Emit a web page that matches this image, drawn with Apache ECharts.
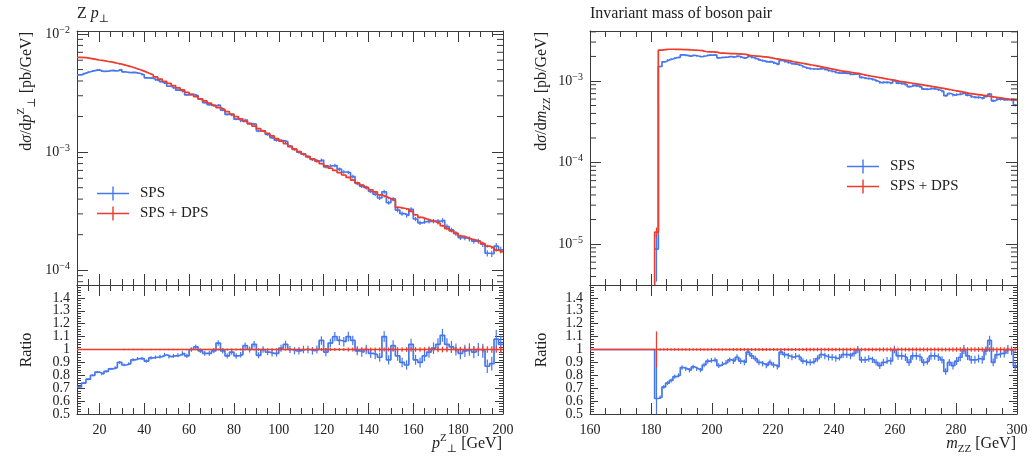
<!DOCTYPE html>
<html><head><meta charset="utf-8">
<script src="https://cdn.jsdelivr.net/npm/echarts@6/dist/echarts.min.js"></script>
<style>html,body{margin:0;padding:0;background:#fff}#c{width:1035px;height:456px}</style>
</head><body><div id="c"></div>
<script>
// ================= DATA =================
// Z pT histogram: 2 GeV bins from 10 to 200 GeV
const ptBinLow = 10, ptBinWidth = 2, ptBinCount = 95;
const spsDpsPt = [
 6.35e-3,6.30e-3,6.22e-3,6.12e-3,6.02e-3,5.95e-3,5.85e-3,5.78e-3,5.65e-3,5.55e-3,
 5.42e-3,5.30e-3,5.15e-3,5.00e-3,4.85e-3,4.68e-3,4.52e-3,4.33e-3,4.15e-3,3.98e-3,
 3.82e-3,3.66e-3,3.50e-3,3.36e-3,3.21e-3,3.08e-3,2.95e-3,2.83e-3,2.71e-3,2.60e-3,
 2.49e-3,2.38e-3,2.29e-3,2.20e-3,2.10e-3,2.00e-3,1.91e-3,1.82e-3,1.74e-3,1.66e-3,
 1.58e-3,1.51e-3,1.44e-3,1.37e-3,1.30e-3,1.24e-3,1.18e-3,1.12e-3,1.065e-3,1.01e-3,
 9.6e-4,9.15e-4,8.75e-4,8.4e-4,8.0e-4,7.65e-4,7.3e-4,7.0e-4,6.7e-4,6.4e-4,
 6.1e-4,5.8e-4,5.5e-4,5.25e-4,5.0e-4,4.8e-4,4.6e-4,4.35e-4,4.2e-4,4.05e-4,
 3.9e-4,3.4e-4,3.35e-4,3.3e-4,3.15e-4,2.95e-4,2.8e-4,2.72e-4,2.65e-4,2.58e-4,
 2.5e-4,2.38e-4,2.25e-4,2.15e-4,2.05e-4,1.95e-4,1.9e-4,1.84e-4,1.8e-4,1.76e-4,
 1.68e-4,1.6e-4,1.55e-4,1.48e-4,1.43e-4];
// SPS / (SPS + DPS) per bin
const ratioPt = [
 0.71,0.74,0.77,0.80,0.825,0.81,0.83,0.85,0.86,0.90,
 0.88,0.89,0.92,0.93,0.93,0.91,0.935,0.94,0.945,0.96,
 0.945,0.95,0.955,0.97,0.95,1.0,1.02,0.99,0.97,0.97,
 0.99,1.05,0.99,0.95,0.98,0.95,0.96,1.03,1.0,1.04,
 0.955,1.0,0.98,0.97,0.97,1.01,1.04,1.0,0.99,0.99,
 1.0,1.0,0.99,1.0,1.07,0.98,1.05,1.1,1.07,1.06,
 1.1,1.07,0.99,0.98,1.0,0.97,0.96,0.94,1.1,0.92,
 1.03,0.95,0.9,0.88,1.04,0.92,0.9,0.95,0.98,1.01,
 1.04,1.11,1.04,1.02,1.0,0.97,0.99,1.0,0.98,1.0,
 0.99,0.87,0.89,1.08,1.04];
const relErrSpsPt = [
 0.010,0.010,0.010,0.010,0.011,0.011,0.011,0.011,0.012,0.012,
 0.012,0.012,0.013,0.013,0.013,0.014,0.014,0.014,0.015,0.015,
 0.016,0.016,0.016,0.017,0.017,0.018,0.018,0.018,0.019,0.019,
 0.020,0.020,0.021,0.021,0.022,0.022,0.022,0.023,0.023,0.024,
 0.024,0.025,0.025,0.026,0.026,0.027,0.027,0.028,0.028,0.029,
 0.029,0.030,0.030,0.031,0.031,0.032,0.032,0.033,0.033,0.034,
 0.034,0.035,0.035,0.036,0.036,0.037,0.037,0.038,0.038,0.039,
 0.040,0.040,0.041,0.041,0.042,0.042,0.043,0.043,0.044,0.044,
 0.045,0.045,0.046,0.046,0.047,0.047,0.048,0.048,0.049,0.050,
 0.055,0.060,0.060,0.065,0.065];
const relErrSpsDpsPt = [
 0.004,0.004,0.004,0.004,0.004,0.004,0.004,0.004,0.004,0.004,
 0.005,0.005,0.005,0.005,0.005,0.005,0.005,0.005,0.005,0.005,
 0.006,0.006,0.006,0.006,0.006,0.006,0.006,0.006,0.006,0.006,
 0.008,0.008,0.008,0.008,0.008,0.008,0.008,0.008,0.008,0.008,
 0.010,0.010,0.010,0.010,0.010,0.010,0.010,0.010,0.010,0.010,
 0.012,0.012,0.012,0.012,0.012,0.012,0.012,0.012,0.012,0.012,
 0.015,0.015,0.015,0.015,0.015,0.015,0.015,0.015,0.015,0.015,
 0.018,0.018,0.018,0.018,0.018,0.018,0.018,0.018,0.018,0.018,
 0.022,0.022,0.022,0.022,0.022,0.022,0.022,0.022,0.022,0.022,
 0.026,0.026,0.026,0.026,0.026];

// m_ZZ histogram: 1.2 GeV bins from 181.2 to 300 GeV
const mzzBinLow = 181.2, mzzBinWidth = 1.2, mzzBinCount = 99;
const spsDpsMzz = [
 1.4e-5,2.39e-3,2.42e-3,2.45e-3,2.45e-3,2.44e-3,2.44e-3,2.43e-3,2.42e-3,2.40e-3,
 2.39e-3,2.38e-3,2.36e-3,2.30e-3,2.28e-3,2.27e-3,2.26e-3,2.20e-3,2.19e-3,2.18e-3,
 2.17e-3,2.16e-3,2.15e-3,2.14e-3,2.12e-3,2.06e-3,2.04e-3,2.02e-3,2.00e-3,1.98e-3,
 1.96e-3,1.92e-3,1.88e-3,1.85e-3,1.82e-3,1.79e-3,1.76e-3,1.72e-3,1.69e-3,1.66e-3,
 1.63e-3,1.60e-3,1.57e-3,1.54e-3,1.51e-3,1.48e-3,1.45e-3,1.42e-3,1.39e-3,1.36e-3,
 1.33e-3,1.31e-3,1.29e-3,1.27e-3,1.25e-3,1.23e-3,1.20e-3,1.17e-3,1.15e-3,1.13e-3,
 1.11e-3,1.09e-3,1.07e-3,1.05e-3,1.03e-3,1.01e-3,9.9e-4,9.75e-4,9.6e-4,9.45e-4,
 9.3e-4,9.15e-4,9.0e-4,8.85e-4,8.7e-4,8.55e-4,8.4e-4,8.25e-4,8.1e-4,7.95e-4,
 7.8e-4,7.65e-4,7.5e-4,7.35e-4,7.2e-4,7.05e-4,6.95e-4,6.85e-4,6.75e-4,6.65e-4,
 6.55e-4,6.45e-4,6.35e-4,6.25e-4,6.15e-4,6.05e-4,5.95e-4,5.9e-4,5.8e-4];
const ratioMzz = [
 0.62,0.63,0.71,0.74,0.76,0.79,0.80,0.86,0.85,0.84,
 0.865,0.85,0.84,0.88,0.91,0.915,0.92,0.875,0.89,0.90,
 0.92,0.91,0.94,0.91,0.90,0.98,0.95,0.93,0.90,0.89,
 0.875,0.90,0.88,0.865,0.98,0.96,0.95,0.94,0.95,0.94,
 0.91,0.90,0.90,0.91,0.93,0.96,0.95,0.94,0.94,0.93,
 0.94,0.96,0.96,0.95,0.97,1.0,0.92,0.92,0.93,0.92,
 0.90,0.875,0.90,0.915,0.91,1.0,0.95,0.95,0.94,0.90,
 0.95,0.95,0.94,0.90,0.91,0.95,0.95,0.94,0.92,0.83,
 0.90,0.875,0.91,0.94,1.0,0.95,0.92,0.92,0.93,0.92,
 0.99,1.07,0.90,0.96,0.97,0.97,1.0,0.99,0.87];
const relErrSpsMzz = [
 0.60,0.020,0.020,0.020,0.020,0.020,0.020,0.020,0.020,0.020,
 0.020,0.020,0.020,0.020,0.020,0.020,0.020,0.020,0.020,0.020,
 0.020,0.024,0.024,0.024,0.024,0.024,0.024,0.024,0.024,0.024,
 0.024,0.024,0.024,0.024,0.024,0.024,0.024,0.024,0.024,0.024,
 0.024,0.027,0.027,0.027,0.027,0.027,0.027,0.027,0.027,0.027,
 0.027,0.027,0.027,0.027,0.027,0.027,0.027,0.027,0.027,0.027,
 0.027,0.030,0.030,0.030,0.030,0.030,0.030,0.030,0.030,0.030,
 0.030,0.030,0.030,0.030,0.030,0.030,0.030,0.030,0.030,0.030,
 0.030,0.034,0.034,0.034,0.034,0.034,0.034,0.034,0.034,0.034,
 0.034,0.034,0.034,0.034,0.034,0.034,0.034,0.034,0.034];
const relErrSpsDpsMzz = [
 0.14,0.010,0.010,0.010,0.010,0.010,0.010,0.010,0.010,0.010,
 0.010,0.010,0.010,0.010,0.010,0.010,0.010,0.010,0.010,0.010,
 0.010,0.012,0.012,0.012,0.012,0.012,0.012,0.012,0.012,0.012,
 0.012,0.012,0.012,0.012,0.012,0.012,0.012,0.012,0.012,0.012,
 0.012,0.014,0.014,0.014,0.014,0.014,0.014,0.014,0.014,0.014,
 0.014,0.014,0.014,0.014,0.014,0.014,0.014,0.014,0.014,0.014,
 0.014,0.016,0.016,0.016,0.016,0.016,0.016,0.016,0.016,0.016,
 0.016,0.016,0.016,0.016,0.016,0.016,0.016,0.016,0.016,0.016,
 0.016,0.018,0.018,0.018,0.018,0.018,0.018,0.018,0.018,0.018,
 0.018,0.018,0.018,0.018,0.018,0.018,0.018,0.018,0.018];

const seriesNames = ['SPS', 'SPS + DPS'];
const ratioTickLabels = ['0.5','0.6','0.7','0.8','0.9','1','1.1','1.2','1.3','1.4'];
const ptRange = [10, 200], mzzRange = [160, 300];
const ptLogRange = [7.5e-5, 1.06e-2], mzzLogRange = [3.15e-6, 4.1e-3];
const ratioRange = [0.5, 1.5];

// ================= HELPERS =================
const FONT = "'Liberation Serif','DejaVu Serif',serif";
const BLUE = '#4677ef', RED = '#ee3b2b', INK = '#222', FRAME = '#3a3a3a';

function edges(lo, w, n) { return Array.from({length: n + 1}, (_, i) => +(lo + i * w).toFixed(4)); }
function steps(e, vals) { const p = []; vals.forEach((v, i) => { p.push([e[i], v]); p.push([e[i + 1], v]); }); return p; }
function errs(e, vals, rel) { return vals.map((v, i) => [+((e[i] + e[i + 1]) / 2).toFixed(4), v * (1 - rel[i]), v * (1 + rel[i])]); }

const ptEdges = edges(ptBinLow, ptBinWidth, ptBinCount);
const mzzEdges = edges(mzzBinLow, mzzBinWidth, mzzBinCount);
const spsPt = spsDpsPt.map((v, i) => v * ratioPt[i]);
const spsMzz = spsDpsMzz.map((v, i) => v * ratioMzz[i]);
const onesPt = spsDpsPt.map(() => 1);
const onesMzz = spsDpsMzz.map(() => 1);

function errRender(color) {
  return function (params, api) {
    const a = api.coord([api.value(0), api.value(1)]);
    const b = api.coord([api.value(0), api.value(2)]);
    return {type: 'line', shape: {x1: a[0], y1: a[1], x2: b[0], y2: b[1]}, style: {stroke: color, lineWidth: 1.2}};
  };
}
function logMinors(r) {
  const out = [];
  for (let e = Math.floor(Math.log10(r[0])); e <= Math.ceil(Math.log10(r[1])); e++)
    for (let k = 2; k <= 9; k++) { const v = k * Math.pow(10, e); if (v > r[0] && v < r[1]) out.push(v); }
  return out;
}
function minorRender(params, api) {
  const cs = params.coordSys;
  const y = api.coord([api.value(0), api.value(1)])[1];
  return {type: 'group', children: [
    {type: 'line', shape: {x1: cs.x, y1: y, x2: cs.x + 6, y2: y}, style: {stroke: FRAME, lineWidth: 1}},
    {type: 'line', shape: {x1: cs.x + cs.width - 6, y1: y, x2: cs.x + cs.width, y2: y}, style: {stroke: FRAME, lineWidth: 1}}
  ]};
}

const axLine = {show: true, onZero: false, lineStyle: {color: FRAME, width: 1}};
function xAx(grid, r, pos, labels, extra) {
  return Object.assign({
    type: 'value', gridIndex: grid, min: r[0], max: r[1], position: pos,
    axisLine: axLine,
    axisTick: {show: true, inside: true, length: 11, lineStyle: {color: FRAME}},
    minorTick: {show: true, splitNumber: 4, length: 6, lineStyle: {color: FRAME}},
    splitLine: {show: false}, minorSplitLine: {show: false},
    axisLabel: {show: labels, margin: 9, color: INK, fontFamily: FONT, fontSize: 14,
      formatter: v => (Math.abs(v - r[0]) < 1e-9 && r[0] % 20 !== 0) ? '' : String(v)}
  }, extra || {});
}
function logAx(grid, r, pos, labels) {
  return {
    type: 'log', logBase: 10, gridIndex: grid, min: r[0], max: r[1], position: pos,
    axisLine: axLine,
    axisTick: {show: true, inside: true, length: 11, lineStyle: {color: FRAME}},
    minorTick: {show: false}, splitLine: {show: false},
    axisLabel: {show: labels, margin: 7,
      formatter: v => { const e = Math.log10(v), k = Math.round(e);
        return Math.abs(e - k) < 1e-6 ? '{b|10}{e|' + (k < 0 ? '\u2212' : '') + Math.abs(k) + '}' : ''; },
      rich: {b: {fontFamily: FONT, fontSize: 14, color: INK, lineHeight: 18},
             e: {fontFamily: FONT, fontSize: 10, color: INK, lineHeight: 9, verticalAlign: 'top'}}}
  };
}
// which: 'main' labels 0.6..1.4, 'min' labels only 0.5 (separate axis so overlap culling keeps both)
function ratioAx(grid, pos, labels, which) {
  const lab = which === 'min'
    ? (v => Math.round((v - ratioRange[0]) * 10) === 0 ? ratioTickLabels[0] : '')
    : (v => { const i = Math.round((v - ratioRange[0]) * 10); return i > 0 ? (ratioTickLabels[i] || '') : ''; });
  const bare = which === 'min';
  return {
    type: 'value', gridIndex: grid, min: ratioRange[0], max: ratioRange[1], interval: 0.1, position: pos,
    axisLine: bare ? {show: false} : axLine,
    axisTick: {show: !bare, inside: true, length: 8, lineStyle: {color: FRAME}},
    minorTick: {show: !bare, splitNumber: 5, length: 4, lineStyle: {color: FRAME}},
    splitLine: {show: false}, minorSplitLine: {show: false},
    axisLabel: {show: labels, margin: 7, color: INK, fontFamily: FONT, fontSize: 14,
      showMinLabel: true, showMaxLabel: false, hideOverlap: false, formatter: lab}
  };
}
function lineS(name, xi, yi, data, color) {
  return {type: 'line', name, xAxisIndex: xi, yAxisIndex: yi, data, symbol: 'none', showSymbol: false,
    lineStyle: {width: 1.7, color}, itemStyle: {color}, clip: true, silent: true, z: 3,
    emphasis: {disabled: true}};
}
function errS(xi, yi, data, color) {
  return {type: 'custom', xAxisIndex: xi, yAxisIndex: yi, data, renderItem: errRender(color), clip: true, silent: true, z: 3};
}
function minorS(xi, yi, xr, lr) {
  return {type: 'custom', xAxisIndex: xi, yAxisIndex: yi, data: logMinors(lr).map(v => [xr[0], v]),
    renderItem: minorRender, silent: true, z: 4};
}

// ================= LAYOUT =================
const grids = [
  {left: 77, top: 31, width: 426, height: 254},
  {left: 77, top: 285, width: 426, height: 129},
  {left: 590, top: 31, width: 427, height: 254},
  {left: 590, top: 285, width: 427, height: 129}
];
const xAxes = [
  xAx(0, ptRange, 'bottom', false, {splitNumber: 10}),
  xAx(0, ptRange, 'top', false, {splitNumber: 10}),
  xAx(1, ptRange, 'bottom', true, {splitNumber: 10}),
  xAx(1, ptRange, 'top', false, {splitNumber: 10}),
  xAx(2, mzzRange, 'bottom', false, {interval: 20}),
  xAx(2, mzzRange, 'top', false, {interval: 20}),
  xAx(3, mzzRange, 'bottom', true, {interval: 20}),
  xAx(3, mzzRange, 'top', false, {interval: 20})
];
const yAxes = [
  logAx(0, ptLogRange, 'left', true), logAx(0, ptLogRange, 'right', false),
  ratioAx(1, 'left', true, 'main'), ratioAx(1, 'right', false, 'main'),
  logAx(2, mzzLogRange, 'left', true), logAx(2, mzzLogRange, 'right', false),
  ratioAx(3, 'left', true, 'main'), ratioAx(3, 'right', false, 'main'),
  ratioAx(1, 'left', true, 'min'), ratioAx(3, 'left', true, 'min')
];

const series = [
  // pT main
  minorS(0, 0, ptRange, ptLogRange),
  lineS(seriesNames[0], 0, 0, steps(ptEdges, spsPt), BLUE),
  errS(0, 0, errs(ptEdges, spsPt, relErrSpsPt), BLUE),
  lineS(seriesNames[1], 0, 0, steps(ptEdges, spsDpsPt), RED),
  errS(0, 0, errs(ptEdges, spsDpsPt, relErrSpsDpsPt), RED),
  // pT ratio
  lineS(seriesNames[0], 2, 2, steps(ptEdges, ratioPt), BLUE),
  errS(2, 2, errs(ptEdges, ratioPt, relErrSpsPt), BLUE),
  lineS(seriesNames[1], 2, 2, [[ptRange[0], 1], [ptRange[1], 1]], RED),
  errS(2, 2, errs(ptEdges, onesPt, relErrSpsDpsPt), RED),
  // mZZ main
  minorS(4, 4, mzzRange, mzzLogRange),
  lineS(seriesNames[0], 4, 4, steps(mzzEdges, spsMzz), BLUE),
  errS(4, 4, errs(mzzEdges, spsMzz, relErrSpsMzz), BLUE),
  lineS(seriesNames[1], 4, 4, [[mzzEdges[0], mzzLogRange[0]]].concat(steps(mzzEdges, spsDpsMzz)), RED),
  errS(4, 4, errs(mzzEdges, spsDpsMzz, relErrSpsDpsMzz), RED),
  // mZZ ratio
  lineS(seriesNames[0], 6, 6, [[mzzRange[0], 1], [mzzEdges[0], 1]].concat(steps(mzzEdges, ratioMzz)), BLUE),
  errS(6, 6, errs(mzzEdges, ratioMzz, relErrSpsMzz), BLUE),
  lineS(seriesNames[1], 6, 6, [[mzzRange[0], 1], [mzzRange[1], 1]], RED),
  errS(6, 6, errs(mzzEdges, onesMzz, relErrSpsDpsMzz), RED)
];

const CROSS = 'path://M0,6.3H32V7.7H0Z M15.3,0H16.7V14H15.3Z';
function legendAt(left, top) {
  return {left, top, orient: 'vertical', padding: 0, itemWidth: 32, itemHeight: 14, itemGap: 5,
    icon: CROSS, selectedMode: false,
    textStyle: {fontFamily: FONT, fontSize: 15, color: INK, padding: [0, 0, 0, 6]},
    data: seriesNames.map(n => ({name: n}))};
}

const R = {
  n: {fontFamily: FONT, fontSize: 16, fill: INK, lineHeight: 22},
  i: {fontFamily: FONT, fontSize: 16, fill: INK, fontStyle: 'italic', lineHeight: 22},
  sub: {fontFamily: FONT, fontSize: 11, fill: INK, lineHeight: 12, verticalAlign: 'bottom'},
  sup: {fontFamily: FONT, fontSize: 11, fill: INK, lineHeight: 14, verticalAlign: 'top'}
};
function txt(x, y, text, align, vAlign, rotation) {
  return {type: 'text', x, y, rotation: rotation || 0, silent: true,
    style: {text, rich: R, align, verticalAlign: vAlign, fill: INK, font: '16px ' + FONT}};
}
const graphic = [
  txt(77, 14, '{n|Z }{i|p}{sub|\u22a5}', 'left', 'middle'),
  txt(590, 14, '{n|Invariant mass of boson pair}', 'left', 'middle'),
  txt(27, 32, '{n|d}{i|\u03c3}{n|/d}{i|p}{sup|Z}{sub|\u22a5}{n| [pb/GeV]}', 'right', 'middle', Math.PI / 2),
  txt(27, 350, '{n|Ratio}', 'center', 'middle', Math.PI / 2),
  txt(542, 32, '{n|d}{i|\u03c3}{n|/d}{i|m}{sub|ZZ}{n| [pb/GeV]}', 'right', 'middle', Math.PI / 2),
  txt(542, 350, '{n|Ratio}', 'center', 'middle', Math.PI / 2),
  txt(502, 444, '{i|p}{sup|Z}{sub|\u22a5}{n| [GeV]}', 'right', 'middle'),
  txt(1016, 444, '{i|m}{sub|ZZ}{n| [GeV]}', 'right', 'middle')
];

const chart = echarts.init(document.getElementById('c'), null, {renderer: 'canvas'});
chart.setOption({
  animation: false,
  backgroundColor: '#fff',
  grid: grids,
  xAxis: xAxes,
  yAxis: yAxes,
  legend: [legendAt(97, 186), legendAt(847, 159)],
  graphic,
  series
});
</script></body></html>
